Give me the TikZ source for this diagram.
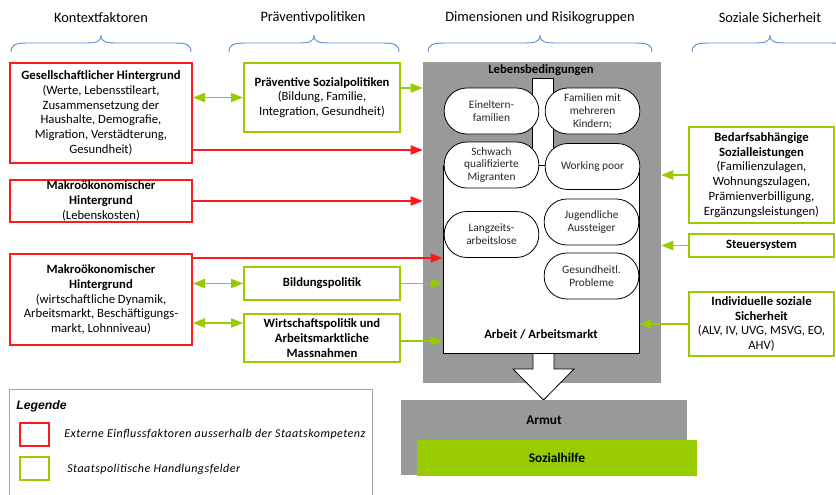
\documentclass[tikz,border=0pt]{standalone}
\usepackage{fontspec}
\setmainfont{Carlito}
\newfontfamily\legfont{Liberation Sans}
\newfontfamily\legtext[LetterSpace=4]{Carlito}
\usetikzlibrary{arrows.meta,calc}
\definecolor{rot}{HTML}{FF1A1A}
\definecolor{gruen}{HTML}{99CC00}
\definecolor{grau}{HTML}{999999}
\definecolor{klammer}{HTML}{5B8FD3}
\definecolor{rahmen}{HTML}{A6A6A6}
\begin{document}
\begin{tikzpicture}[x=0.75pt,y=-0.75pt,
  every node/.style={inner sep=0pt, align=center, font=\fontsize{9.5}{11.1}\selectfont},
  sz/.style 2 args={minimum width=#1*0.75pt, minimum height=#2*0.75pt},
  redbox/.style={draw=rot, line width=1.5pt, fill=white},
  greenbox/.style={draw=gruen, line width=1.5pt, fill=white},
  oval/.style={draw=black, line width=0.6pt, fill=white, rounded corners=17pt,
    minimum width=71pt, minimum height=34.5pt, font=\fontsize{8.5}{9.7}\selectfont, text=black!85},
  head/.style={font=\fontsize{10.8}{13}\selectfont},
  brace/.style={draw=klammer, line width=0.7pt},
  redarrow/.style={draw=rot, line width=0.9pt, -{Triangle[length=9pt,width=7pt]}},
  greenarrow/.style={draw=gruen, line width=0.9pt, -{Triangle[length=9pt,width=7pt]}},
  dblarrow/.style={draw=gruen, line width=0.9pt, {Triangle[length=9pt,width=7pt]}-{Triangle[length=9pt,width=7pt]}},
  pics/curly/.style={code={
    \draw[brace] (-#1,17) .. controls (-#1,10) and (-#1+4,8) .. (-#1+16,8)
      -- (-16,8) .. controls (-5,8) and (0,7) .. (0,0)
      .. controls (0,7) and (5,8) .. (16,8)
      -- (#1-16,8) .. controls (#1-4,8) and (#1,10) .. (#1,17);
  }},
]
\useasboundingbox (0,0) rectangle (836,494);
\clip (0,0) rectangle (836,494);

% column headings with braces
\node[head] (h1) at (101,18) {Kontextfaktoren};
\node[head] (h2) at (313,18) {Präventivpolitiken};
\node[head] (h3) at (540,18) {Dimensionen und Risikogruppen};
\node[head] (h4) at (770,18) {Soziale Sicherheit};
\pic at (101,35) {curly=90};
\pic at (314,35) {curly=85};
\pic at (540,35) {curly=112};
\pic at (770,35) {curly=78};

% context factors
\node[redbox, sz={182}{100}] (red1) at (101,113) {\textbf{Gesellschaftlicher Hintergrund}\\(Werte, Lebensstileart,\\Zusammensetzung der\\Haushalte, Demografie,\\Migration, Verstädterung,\\Gesundheit)};
\node[redbox, sz={182}{42}] (red2) at (101,201) {\textbf{Makroökonomischer}\\\textbf{Hintergrund}\\(Lebenskosten)};
\node[redbox, sz={182}{91}] (red3) at (101,299.5) {\textbf{Makroökonomischer}\\\textbf{Hintergrund}\\(wirtschaftliche Dynamik,\\Arbeitsmarkt, Beschäftigungs-\\markt, Lohnniveau)};

% preventive policies
\node[greenbox, sz={156}{69}] (green1) at (322,97.5) {\textbf{Präventive Sozialpolitiken}\\(Bildung, Familie,\\Integration, Gesundheit)};
\node[greenbox, sz={156}{33}] (bild) at (322,283.5) {\textbf{Bildungspolitik}};
\node[greenbox, sz={156}{48}] (wirt) at (322,338) {\textbf{Wirtschaftspolitik und}\\\textbf{Arbeitsmarktliche}\\\textbf{Massnahmen}};

% living conditions block
\node[fill=grau, sz={238}{321}] (lb) at (542,222.5) {};
\node[font=\fontsize{9.5}{11}\selectfont\bfseries] (lbt) at (541,70) {Lebensbedingungen};
\node[draw=black, line width=0.6pt, fill=white, sz={21}{92}] (col) at (542.5,124) {};
\draw[black, line width=0.6pt, fill=white] (533,352) -- (533,369) -- (513,369) -- (543.5,400) -- (574,369) -- (554,369) -- (554,352);
\node[draw=black, line width=0.6pt, fill=white, sz={196}{188}] (arb) at (541,259) {};
\node[font=\fontsize{9.5}{11}\selectfont\bfseries] (arbt) at (541,334) {Arbeit / Arbeitsmarkt};

\node[oval] (eltern) at (491.5,111) {Eineltern-\\familien};
\node[oval] (kinder) at (592.5,111) {Familien mit\\mehreren\\Kindern;};
\node[oval] (migr) at (491.5,165) {Schwach\\qualifizierte\\Migranten};
\node[oval] (poor) at (592.5,166.5) {Working poor};
\node[oval] (langz) at (491.5,234.5) {Langzeits-\\arbeitslose};
\node[oval] (jug) at (591.5,222) {Jugendliche\\Aussteiger};
\node[oval] (gesund) at (591.5,276) {Gesundheitl.\\Probleme};

% social security
\node[greenbox, sz={145}{96}] (bed) at (761.5,175) {\textbf{Bedarfsabhängige}\\\textbf{Sozialleistungen}\\(Familienzulagen,\\Wohnungszulagen,\\Prämienverbilligung,\\Ergänzungsleistungen)};
\node[greenbox, sz={145}{23}] (steuer) at (761.5,245.5) {\textbf{Steuersystem}};
\node[greenbox, sz={145}{64}] (indiv) at (761.5,324) {\textbf{Individuelle soziale}\\\textbf{Sicherheit}\\(ALV, IV, UVG, MSVG, EO,\\AHV)};

% poverty and social assistance
\node[fill=grau, sz={286}{75}] (armut) at (544,437.5) {};
\node[font=\fontsize{10}{12}\selectfont\bfseries] (armutt) at (544,420) {Armut};
\node[fill=gruen, sz={280}{36}, font=\fontsize{10}{12}\selectfont\bfseries] (sozial) at (557,458) {Sozialhilfe};

% connectors
\draw[dblarrow] (green1.west) -- (green1.west -| red1.east);
\draw[greenarrow] ($(green1.east)+(0,-9.5)$) coordinate (g1o) -- (g1o -| lb.west);
\draw[redarrow] ($(red1.east)+(0,37)$) coordinate (r1o) -- (r1o -| lb.west);
\draw[redarrow] (red2.east) -- (red2.east -| lb.west);
\draw[redarrow] ($(red3.north east)+(0,5)$) coordinate (r3o) -- (r3o -| arb.west);
\draw[dblarrow] (bild.west) -- (bild.west -| red3.east);
\draw[greenarrow] (bild.east) -- (bild.east -| arb.west);
\draw[dblarrow] ($(wirt.west)+(0,-15)$) coordinate (wo) -- (wo -| red3.east);
\draw[greenarrow] ($(wirt.east)+(0,3)$) coordinate (we) -- (we -| arb.west);
\draw[greenarrow] (bed.west) -- (bed.west -| lb.east);
\draw[greenarrow] (steuer.west) -- (steuer.west -| lb.east);
\draw[greenarrow] (indiv.west) -- (indiv.west -| arb.east);

% legend
\node[draw=rahmen, line width=0.8pt, sz={363}{111}, anchor=north west] (leg) at (9,389) {};
\node[anchor=west, font=\legfont\fontsize{9.2}{11}\selectfont\bfseries\itshape] (legt) at (16,406) {Legende};
\node[draw=rot, line width=1.2pt, sz={29}{23}] (legr) at (34.5,434.5) {};
\node[draw=gruen, line width=1.2pt, sz={29}{23}] (legg) at (34.5,468.5) {};
\node[anchor=west, font=\legtext\fontsize{9}{11}\selectfont\itshape] (legrt) at (64,434.5) {Externe Einflussfaktoren ausserhalb der Staatskompetenz};
\node[anchor=west, font=\legtext\fontsize{9}{11}\selectfont\itshape] (leggt) at (67,469.5) {Staatspolitische Handlungsfelder};
\end{tikzpicture}
\end{document}
